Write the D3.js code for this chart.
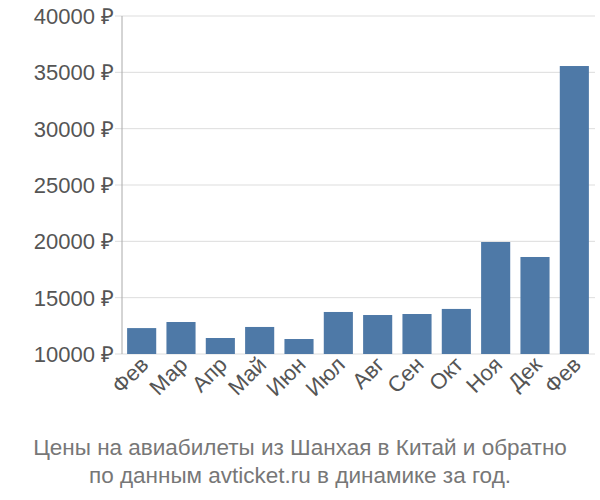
<!DOCTYPE html>
<html><head><meta charset="utf-8">
<script src="https://cdn.jsdelivr.net/npm/d3@7.9.0/dist/d3.min.js"></script>
<style>body{margin:0;background:#fff}text{font-family:"Liberation Sans",Arial,sans-serif}</style>
</head><body><svg width="600" height="500"></svg>
<script>
const months = ['Фев','Мар','Апр','Май','Июн','Июл','Авг','Сен','Окт','Ноя','Дек','Фев'];
const prices = [12300,12840,11420,12400,11330,13730,13460,13550,14000,19940,18610,35560];
const yTicks = [10000,15000,20000,25000,30000,35000,40000];

const svg = d3.select('svg');
const x = d3.scaleBand().domain(d3.range(months.length)).range([122,594]).paddingInner(0.26).paddingOuter(0.13);
const y = d3.scaleLinear().domain([10000,40000]).range([354,16]);

svg.append('g').selectAll('line').data(yTicks).join('line')
  .attr('x1',115).attr('x2',595).attr('y1',d=>y(d)).attr('y2',d=>y(d))
  .attr('stroke','#ddd');
svg.append('line').attr('x1',122).attr('x2',122).attr('y1',16).attr('y2',354).attr('stroke','#aaa');

svg.append('g').selectAll('text').data(yTicks).join('text')
  .attr('x',114).attr('y',d=>y(d)+8).attr('text-anchor','end')
  .attr('font-size',22).attr('fill','#555').text(d=>d+' ₽');

svg.append('g').selectAll('rect').data(prices).join('rect')
  .attr('x',(d,i)=>x(i)).attr('width',x.bandwidth())
  .attr('y',d=>y(d)).attr('height',d=>y(10000)-y(d)).attr('fill','#4e79a7');

svg.append('g').selectAll('text').data(months).join('text')
  .attr('transform',(d,i)=>`translate(${x(i)+x.bandwidth()/2+8},${366}) rotate(-45)`)
  .attr('text-anchor','end').attr('font-size',22).attr('fill','#555').text(d=>d);

const caption = ['Цены на авиабилеты из Шанхая в Китай и обратно','по данным avticket.ru в динамике за год.'];
svg.append('g').selectAll('text').data(caption).join('text')
  .attr('x',300).attr('y',(d,i)=>455+i*28).attr('text-anchor','middle')
  .attr('font-size',22.5).attr('fill','#777').text(d=>d);
</script></body></html>
